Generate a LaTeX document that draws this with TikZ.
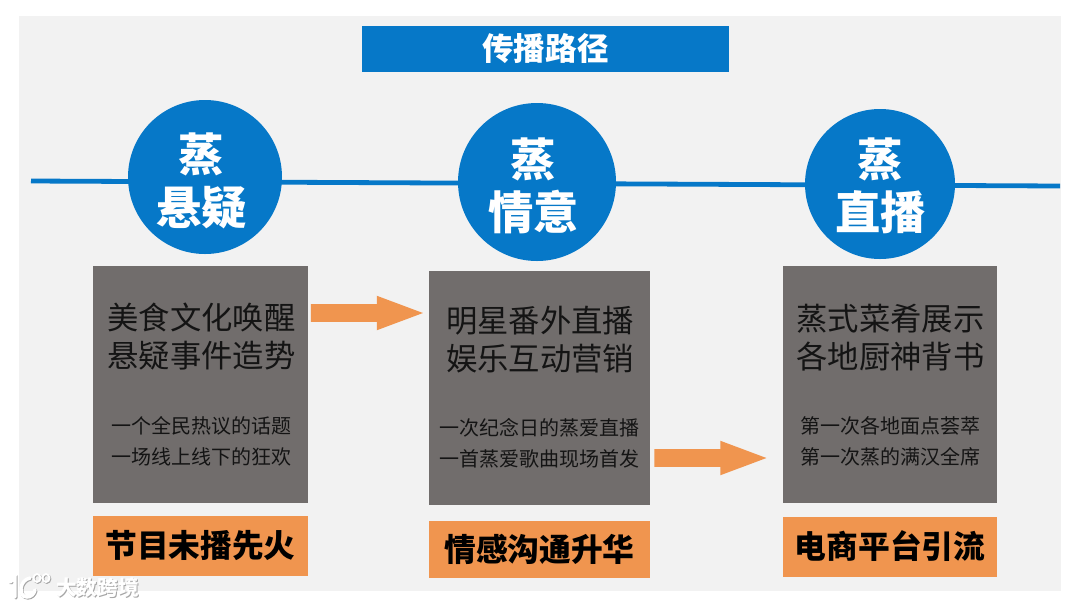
\documentclass[tikz,border=0pt]{standalone}
\usepackage{fontspec}
\setmainfont{Noto Sans CJK SC}
\usetikzlibrary{shapes.arrows}
\definecolor{panelgray}{HTML}{F2F2F2}
\definecolor{routeblue}{HTML}{0678C8}
\definecolor{boxgray}{HTML}{716D6C}
\definecolor{tagorange}{HTML}{F0954F}
\definecolor{inktext}{HTML}{141414}
\begin{document}
\begin{tikzpicture}[x=0.75pt,y=-0.75pt]
    \tikzstyle{titlebar} = [
        fill = routeblue, text = white,
        minimum width = 275.25pt, minimum height = 34.5pt,
        inner sep = 0pt,
        font = \bfseries\fontsize{23.7}{26}\selectfont
    ]
    \tikzstyle{stage} = [
        circle, fill = routeblue, inner sep = 0pt
    ]
    \tikzstyle{stagetext} = [
        text = white, inner sep = 0pt, align = center,
        font = \bfseries\fontsize{34}{39.5}\selectfont
    ]
    \tikzstyle{panel} = [
        fill = boxgray, inner sep = 0pt
    ]
    \tikzstyle{headline} = [
        text = inktext, align = center, inner sep = 0pt,
        font = \fontsize{23.5}{28.5}\selectfont
    ]
    \tikzstyle{detail} = [
        text = inktext, align = center, inner sep = 0pt,
        font = \fontsize{15}{23.25}\selectfont
    ]
    \tikzstyle{tag} = [
        fill = tagorange, text = black, inner sep = 0pt,
        font = \bfseries\fontsize{23.8}{26}\selectfont
    ]
    \tikzstyle{flow} = [
        single arrow, fill = tagorange, inner sep = 6.5pt,
        minimum height = 84pt,
        single arrow head extend = 6.25pt,
        single arrow tip angle = 41
    ]
    \tikzstyle{stamp} = [
        inner sep = 0pt,
        font = \bfseries\fontsize{15.5}{18}\selectfont
    ]

    \useasboundingbox (0,0) rectangle (1080,608);
    \fill [panelgray] (19,16) rectangle (1061,591);

    \node [titlebar] (title) at (545.5,49) {传播路径};

    % route behind the circles
    \coordinate (routeL) at (31,181);
    \coordinate (routeR) at (1060,186);
    \draw [routeblue, line width=3.6pt] (routeL) -- (routeR);

    \node [stage, minimum size=115.5pt] (stageA) at (205,177) {};
    \node [stage, minimum size=118.5pt] (stageB) at (537,182) {};
    \node [stage, minimum size=112.5pt] (stageC) at (880,184) {};

    \node [stagetext] (nameA) at (201.5,181) {蒸\\悬疑};
    \node [stagetext] (nameB) at (533.5,186) {蒸\\情意};
    \node [stagetext] (nameC) at (880.5,186) {蒸\\直播};

    \node [panel, minimum width=161.25pt, minimum height=177.75pt] (panelA) at (200.5,384.5) {};
    \node [panel, minimum width=165.75pt, minimum height=175.5pt] (panelB) at (539.5,388) {};
    \node [panel, minimum width=160.5pt, minimum height=177.75pt] (panelC) at (890,384.5) {};

    \node [headline] (headA) at (201.5,337) {美食文化唤醒\\悬疑事件造势};
    \node [headline] (headB) at (540,340) {明星番外直播\\娱乐互动营销};
    \node [headline] (headC) at (890.5,338) {蒸式菜肴展示\\各地厨神背书};

    \node [detail] (detailA) at (201.5,441) {一个全民热议的话题\\一场线上线下的狂欢};
    \node [detail] (detailB) at (539,443) {一次纪念日的蒸爱直播\\一首蒸爱歌曲现场首发};
    \node [detail] (detailC) at (890.5,441) {第一次各地面点荟萃\\第一次蒸的满汉全席};

    \node [tag, minimum width=161.25pt, minimum height=45pt] (tagA) at (200.5,546) {节目未播先火};
    \node [tag, minimum width=165.75pt, minimum height=42.75pt] (tagB) at (539.5,549.5) {情感沟通升华};
    \node [tag, minimum width=160.5pt, minimum height=45pt] (tagC) at (890,546.5) {电商平台引流};

    \node [flow] (flowA) at (355,313) {};
    \node [flow] (flowB) at (698.5,458) {};

    % watermark, soft grey edge under white
    \foreach \off/\col in {0.9/black!35, 0/white} {
        \begin{scope}[shift={(\off,\off)}]
            \draw [\col, line width=2.6pt, line cap=round] (10,582) -- (15,578) -- (15,597);
            \draw [\col, line width=2.6pt, line cap=round] (30,578) .. controls (19,580) and (18,597) .. (27,597) .. controls (31,597) and (34,594) .. (35,590);
            \draw [\col, line width=1.4pt] (37,578) circle (3.5 and 4) (46,578) circle (3.5 and 4);
            \node [stamp, text=\col] at (97.5,588) {大数跨境};
        \end{scope}
    }
\end{tikzpicture}
\end{document}
